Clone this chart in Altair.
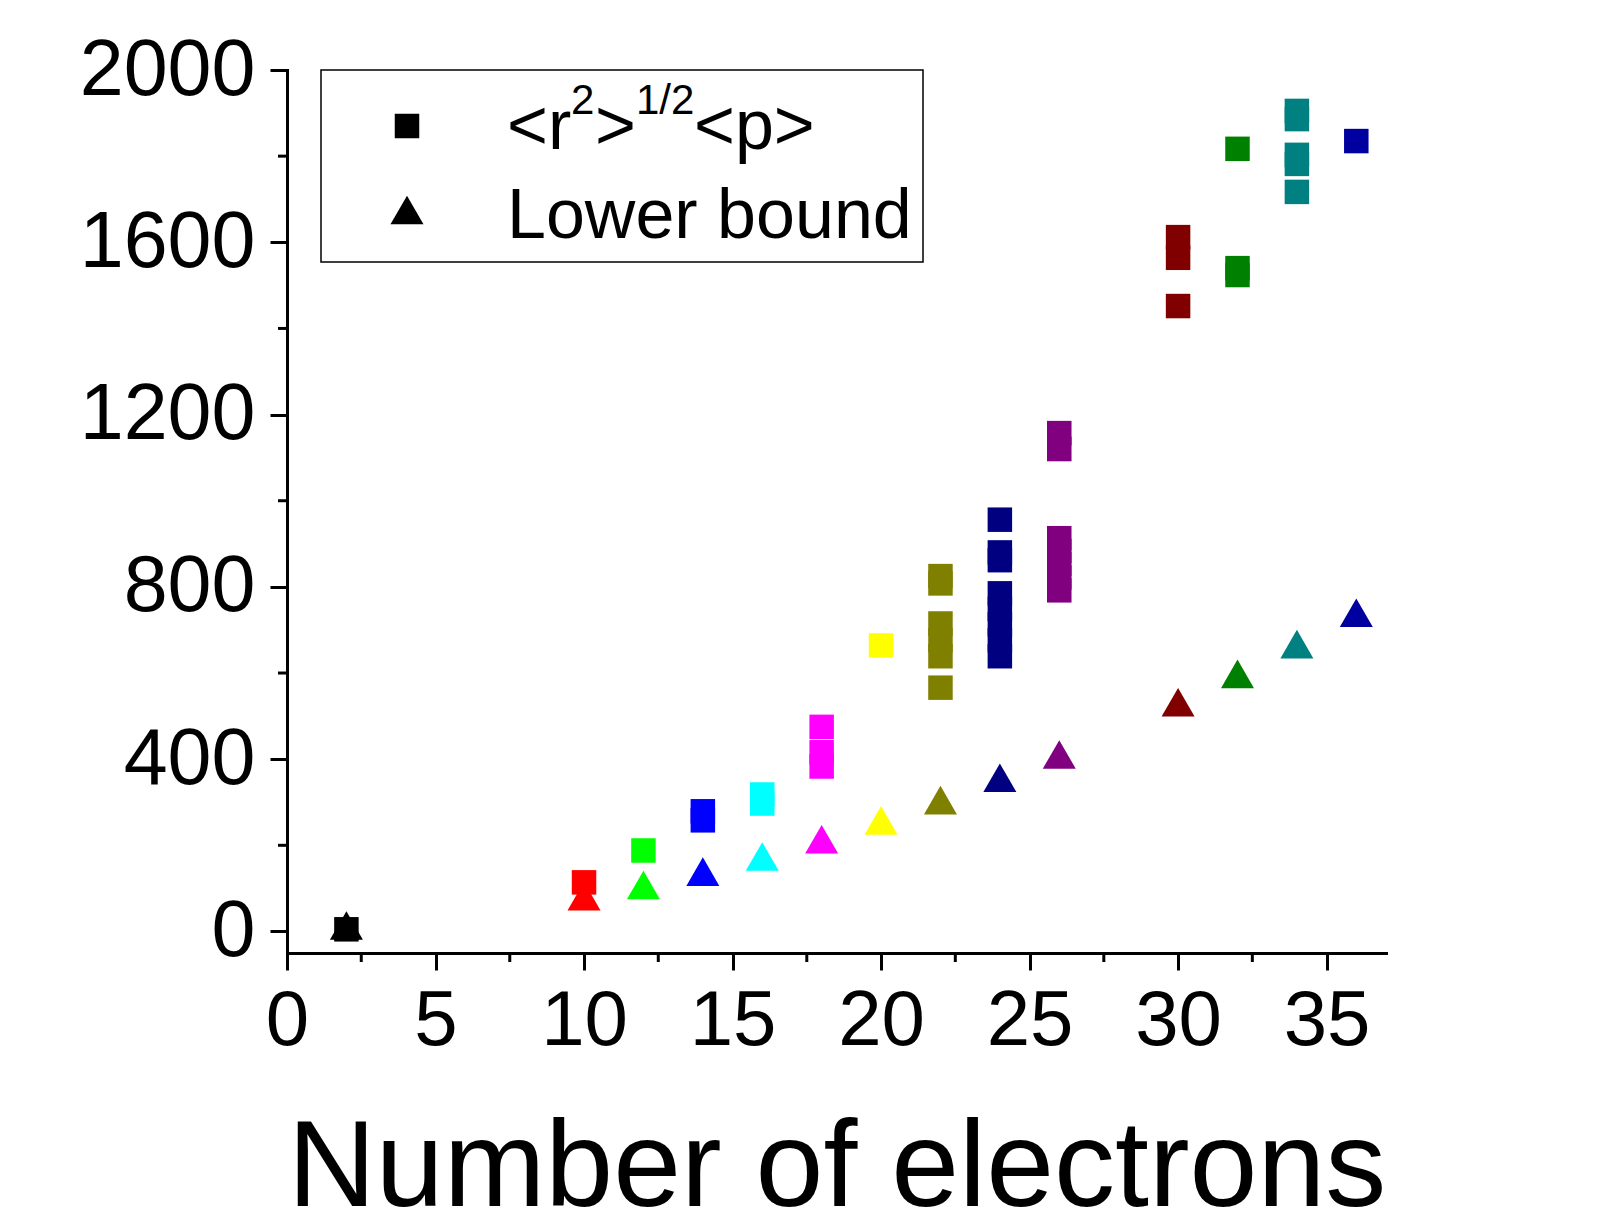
import altair as alt
import pandas as pd

# ---------------- data ----------------
electrons = [2, 10, 12, 14, 16, 18, 20, 22, 24, 26, 30, 32, 34, 36]
colors = ["#000000", "#FF0000", "#00FF00", "#0000FF", "#00FFFF", "#FF00FF", "#FFFF00",
          "#808000", "#000080", "#800080", "#800000", "#008000", "#008080", "#0000A0"]
r_p_values = [
    [5],
    [114],
    [188],
    [279, 258],
    [318, 297],
    [475, 416, 383],
    [664],
    [825, 808, 715, 676, 639, 566],
    [956, 880, 862, 785, 749, 713, 676, 639],
    [1157, 1120, 913, 883, 853, 822, 792],
    [1612, 1564, 1452],
    [1817, 1540, 1524],
    [1905, 1886, 1803, 1782, 1717],
    [1835],
]
lower_bound = [14, 82, 108, 139, 174, 214, 258, 305, 357, 411, 532, 598, 667, 740]

x_ticks = [0, 5, 10, 15, 20, 25, 30, 35]
x_minor = [2.5, 7.5, 12.5, 17.5, 22.5, 27.5, 32.5]
y_ticks = [0, 400, 800, 1200, 1600, 2000]
y_minor = [200, 600, 1000, 1400, 1800]

x_title = "Number of electrons"
legend_lower = "Lower bound"

FONT = "Liberation Sans"
W, H = 1099, 883

# ---------------- tables ----------------
sq_rows = []
for n, c, vals in zip(electrons, colors, r_p_values):
    for v in vals:
        sq_rows.append({"x": n, "y": v, "c": c})
sq_df = pd.DataFrame(sq_rows)
tri_df = pd.DataFrame({"x": electrons, "y": lower_bound, "c": colors})
xminor_df = pd.DataFrame({"x": x_minor})
yminor_df = pd.DataFrame({"y": y_minor})
one = pd.DataFrame({"a": [0]})

xscale = alt.Scale(domain=[0, 37], nice=False, zero=False)
yscale = alt.Scale(domain=[-50, 2000], nice=False, zero=False)

xaxis = alt.Axis(values=x_ticks, format="d", labelFont=FONT, labelFontSize=78,
                 labelColor="black", labelPadding=12, labelFlush=False, labelOverlap=False,
                 tickSize=17, tickWidth=3, tickColor="black",
                 domainWidth=3, domainColor="black", domainCap="square", grid=False,
                 title=x_title, titleFont=FONT, titleFontSize=122, titleFontWeight="normal",
                 titleColor="black", titleBaseline="alphabetic", titleY=252)
yaxis = alt.Axis(values=y_ticks, format="d", labelFont=FONT, labelFontSize=79,
                 labelColor="black", labelPadding=15, labelFlush=False, labelOverlap=False,
                 tickSize=17, tickWidth=3, tickColor="black",
                 domainWidth=3, domainColor="black", domainCap="square", grid=False,
                 title=None)

X = alt.X("x:Q", scale=xscale, axis=xaxis)
Y = alt.Y("y:Q", scale=yscale, axis=yaxis)

tri = alt.Chart(tri_df).mark_point(shape="triangle-up", filled=True, size=1090,
                                   opacity=1, strokeWidth=0).encode(
    x=X, y=Y, color=alt.Color("c:N", scale=None))
sq = alt.Chart(sq_df).mark_point(shape="square", filled=True, size=600,
                                 opacity=1, strokeWidth=0).encode(
    x=X, y=Y, color=alt.Color("c:N", scale=None))

xminor = alt.Chart(xminor_df).mark_rule(color="black", strokeWidth=3).encode(
    x=X, y=alt.value(H), y2=alt.value(H + 9))
yminor = alt.Chart(yminor_df).mark_rule(color="black", strokeWidth=3).encode(
    y=Y, x=alt.value(0), x2=alt.value(-9))

# ---------------- custom legend ----------------
box = alt.Chart(one).mark_rect(fill="white", stroke="black", strokeWidth=1.5).encode(
    x=alt.value(34), x2=alt.value(636), y=alt.value(0), y2=alt.value(192))
leg_sq = alt.Chart(one).mark_point(shape="square", filled=True, size=600, color="black",
                                   opacity=1, strokeWidth=0).encode(
    x=alt.value(120), y=alt.value(56))
leg_tri = alt.Chart(one).mark_point(shape="triangle-up", filled=True, size=1090, color="black",
                                    opacity=1, strokeWidth=0).encode(
    x=alt.value(120), y=alt.value(140))

def txt(s, x, y, size):
    return alt.Chart(one).mark_text(text=s, align="left", baseline="alphabetic",
                                    font=FONT, fontSize=size, color="black").encode(
        x=alt.value(x), y=alt.value(y))

legend_layers = [
    box, leg_sq, leg_tri,
    txt("<r", 220, 79, 70),
    txt("2", 284, 44, 42),
    txt(">", 308, 79, 70),
    txt("1/2", 349, 44, 42),
    txt("<p>", 407, 79, 70),
    txt(legend_lower, 220, 168, 70),
]

chart = alt.layer(xminor, yminor, tri, sq, *legend_layers).properties(
    width=W, height=H,
    autosize=alt.AutoSizeParams(type="none"),
    padding={"left": 279, "top": 62, "right": 200, "bottom": 268},
    background="white",
).configure(font=FONT).configure_view(strokeWidth=0, stroke="transparent")

chart.save("out.html", embed_options={"renderer": "svg", "actions": False})
